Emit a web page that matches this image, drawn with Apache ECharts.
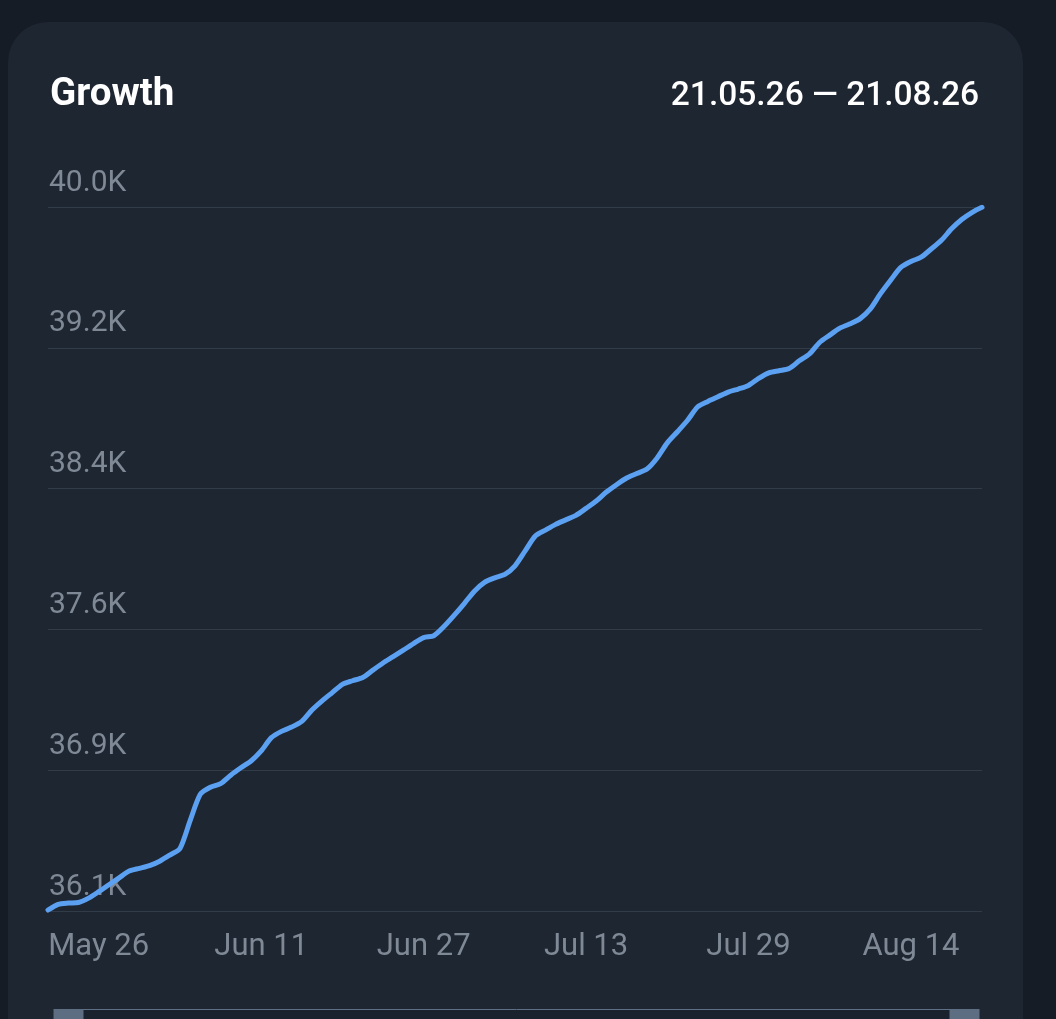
<!DOCTYPE html>
<html>
<head>
<meta charset="utf-8">
<script src="https://cdn.jsdelivr.net/npm/echarts@6/dist/echarts.min.js"></script>
<style>
  html, body { margin: 0; padding: 0; width: 1056px; height: 1019px; background: #161c25; overflow: hidden; }
  #card { position: absolute; left: 8px; top: 22px; width: 1015px; height: 1060px; background: #1e2632; border-radius: 40px; }
  #chart { position: absolute; left: 0; top: 0; width: 1056px; height: 1019px; }
</style>
</head>
<body>
<div id="card"></div>
<div id="chart"></div>
<script>
// ---- data ----
const titleText = 'Growth';
const rangeText = '21.05.26 — 21.08.26';

const categories = [
  'May 21','May 22','May 23','May 24','May 25','May 26','May 27','May 28','May 29','May 30','May 31',
  'Jun 1','Jun 2','Jun 3','Jun 4','Jun 5','Jun 6','Jun 7','Jun 8','Jun 9','Jun 10','Jun 11','Jun 12','Jun 13','Jun 14','Jun 15',
  'Jun 16','Jun 17','Jun 18','Jun 19','Jun 20','Jun 21','Jun 22','Jun 23','Jun 24','Jun 25','Jun 26','Jun 27','Jun 28','Jun 29','Jun 30',
  'Jul 1','Jul 2','Jul 3','Jul 4','Jul 5','Jul 6','Jul 7','Jul 8','Jul 9','Jul 10','Jul 11','Jul 12','Jul 13','Jul 14','Jul 15',
  'Jul 16','Jul 17','Jul 18','Jul 19','Jul 20','Jul 21','Jul 22','Jul 23','Jul 24','Jul 25','Jul 26','Jul 27','Jul 28','Jul 29','Jul 30','Jul 31',
  'Aug 1','Aug 2','Aug 3','Aug 4','Aug 5','Aug 6','Aug 7','Aug 8','Aug 9','Aug 10','Aug 11','Aug 12','Aug 13','Aug 14','Aug 15',
  'Aug 16','Aug 17','Aug 18','Aug 19','Aug 20','Aug 21'
];

const values = [
  36081, 36113, 36120, 36123, 36147, 36183, 36222, 36260, 36298, 36313,
  36328, 36353, 36387, 36424, 36579, 36726, 36765, 36785, 36832, 36873,
  36911, 36967, 37041, 37076, 37100, 37132, 37195, 37246, 37292, 37338,
  37358, 37376, 37417, 37457, 37492, 37528, 37565, 37598, 37609, 37660,
  37722, 37788, 37857, 37906, 37931, 37950, 37998, 38081, 38164, 38197,
  38229, 38254, 38279, 38318, 38359, 38409, 38450, 38487, 38512, 38537,
  38599, 38683, 38745, 38809, 38884, 38914, 38940, 38966, 38983, 39003,
  39042, 39073, 39085, 39097, 39140, 39178, 39242, 39283, 39322, 39346,
  39375, 39429, 39514, 39589, 39660, 39693, 39717, 39763, 39811, 39875,
  39927, 39966, 39995
];

const xTickLabels = ['May 26','Jun 11','Jun 27','Jul 13','Jul 29','Aug 14'];
const yMin = 36075.5;
const yMax = 39996.75;
const yStep = 784.25;

// ---- chart ----
const chart = echarts.init(document.getElementById('chart'), null, { renderer: 'canvas' });
const labelFont = 'Roboto, "Noto Sans", sans-serif';

chart.setOption({
  backgroundColor: 'transparent',
  animation: false,
  title: [
    {
      text: titleText, left: 45, top: 71,
      textStyle: { color: '#ffffff', fontSize: 38.5, fontWeight: 'bold', fontFamily: labelFont }
    },
    {
      text: rangeText, right: 72, top: 75,
      textStyle: { color: '#ffffff', fontSize: 33.5, fontWeight: 500, fontFamily: labelFont }
    }
  ],
  grid: { left: 48, right: 74, top: 207, bottom: 108, containLabel: false },
  xAxis: {
    type: 'category',
    data: categories,
    boundaryGap: false,
    axisLine: { show: false },
    axisTick: { show: false },
    splitLine: { show: false },
    axisLabel: {
      interval: function (idx, val) { return xTickLabels.indexOf(val) >= 0; },
      color: '#7f8996', fontSize: 31, fontFamily: labelFont, margin: 21
    }
  },
  yAxis: {
    type: 'value',
    min: yMin, max: yMax, interval: yStep,
    axisLine: { show: false },
    axisTick: { show: false },
    splitLine: { lineStyle: { color: '#323c49', width: 1 } },
    axisLabel: {
      inside: true,
      align: 'left',
      verticalAlign: 'bottom',
      margin: 1,
      padding: [0, 0, 9, 0],
      color: '#7f8996', fontSize: 30, fontFamily: labelFont,
      formatter: function (v) { return (v / 1000).toFixed(1) + 'K'; }
    }
  },
  dataZoom: [{
    type: 'slider',
    xAxisIndex: 0,
    start: 0, end: 100,
    left: 67, right: 91, top: 1009, height: 60,
    showDetail: false,
    showDataShadow: false,
    brushSelect: false,
    moveHandleSize: 0,
    borderColor: '#5f6f84',
    borderRadius: 10,
    backgroundColor: '#1a222d',
    fillerColor: '#1a222d',
    handleIcon: 'path://M10,0 H20 A10,10 0 0 1 30,10 V60 H0 V10 A10,10 0 0 1 10,0 Z',
    handleSize: '100%',
    handleStyle: { color: '#5d6d82', borderWidth: 0 }
  }],
  series: [{
    type: 'line',
    data: values,
    smooth: 0.25,
    symbol: 'none',
    lineStyle: { color: '#5ca0f2', width: 5, cap: 'round', join: 'round' }
  }]
});
</script>
</body>
</html>
